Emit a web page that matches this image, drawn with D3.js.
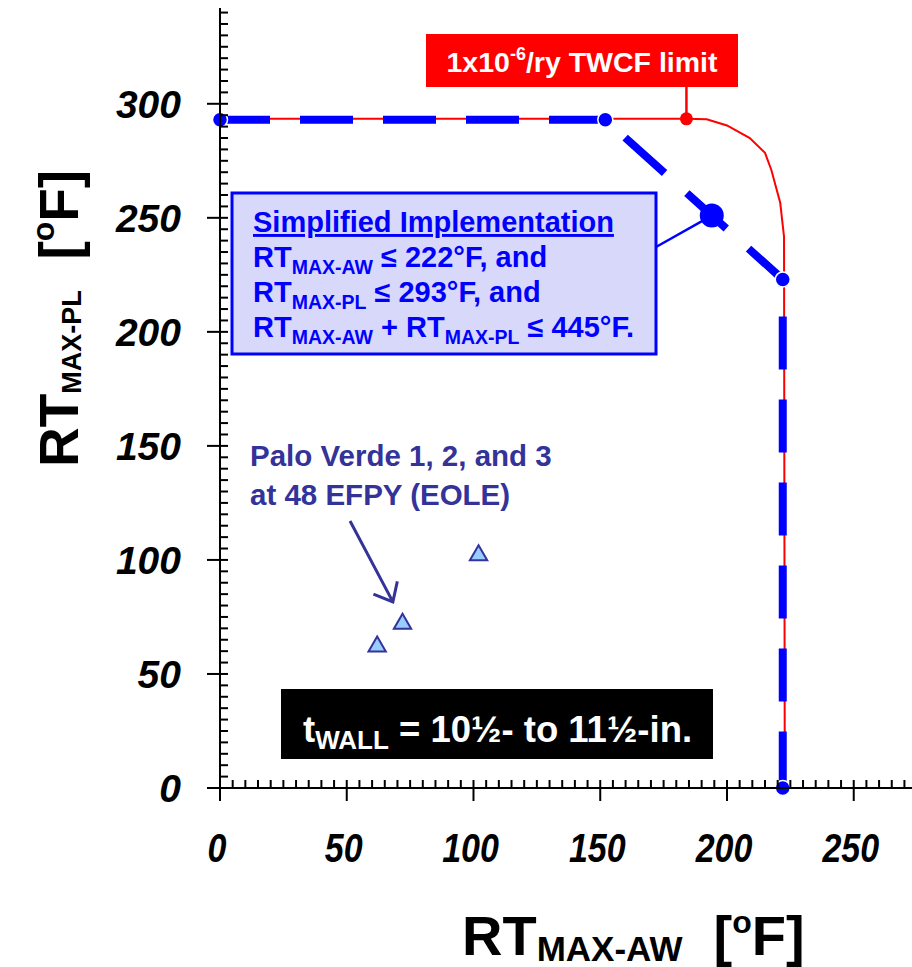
<!DOCTYPE html>
<html>
<head>
<meta charset="utf-8">
<script src="https://cdn.jsdelivr.net/npm/d3@7"></script>
<style>
  html, body { margin: 0; padding: 0; background: #fff; }
  svg { display: block; font-family: "Liberation Sans", Arial, sans-serif; font-weight: bold; }
</style>
</head>
<body>
<svg id="chart" width="912" height="967"></svg>
<script>
// axis ticks
const xTicks = [0, 50, 100, 150, 200, 250];
const yTicks = [0, 50, 100, 150, 200, 250, 300];

// 1e-6/ry TWCF limit curve [RT_MAX-AW, RT_MAX-PL]
const twcfLimit = [[0, 293.4], [184, 293.4], [192, 293.2], [200, 290.5], [209, 285], [215, 278.5],
                   [217.5, 271], [221, 256.6], [222.5, 241.7], [222.8, 0], [0, 0]];
const limitPoint = [184, 293.4];

// simplified implementation bound
const simplified = [[0, 293], [152, 293], [222, 223], [222, 0]];
const designPoint = [194, 251];

// Palo Verde 1, 2, 3 at 48 EFPY
const plantAW = [62, 72, 102];
const plantPL = [62, 72, 102];

const width = 912, height = 967;
const margin = { top: 8, right: 2.5, bottom: 179, left: 220 };

const svg = d3.select('#chart');

const x = d3.scaleLinear().domain([0, 272]).range([margin.left, width - margin.right]);
const y = d3.scaleLinear().domain([0, 342]).range([height - margin.bottom, margin.top]);

const line = d3.line().x(d => x(d[0])).y(d => y(d[1]));

function drawAxes() {
  const g = svg.append('g').attr('stroke', '#000').attr('stroke-width', 2);
  const minorX = d3.range(0, 271, 5), minorY = d3.range(0, 341, 5);

  // x axis: minor ticks up (inside), major ticks down
  g.selectAll('.mx').data(minorX).join('line')
    .attr('x1', d => x(d)).attr('x2', d => x(d))
    .attr('y1', y(0)).attr('y2', y(0) - 8);
  g.selectAll('.Mx').data(xTicks).join('line')
    .attr('x1', d => x(d)).attr('x2', d => x(d))
    .attr('y1', y(0)).attr('y2', y(0) + 13);
  g.append('line').attr('x1', x(0) - 13).attr('x2', width).attr('y1', y(0)).attr('y2', y(0));

  // y axis: minor ticks right (inside), major ticks left
  g.selectAll('.my').data(minorY).join('line')
    .attr('y1', d => y(d)).attr('y2', d => y(d))
    .attr('x1', x(0)).attr('x2', x(0) + 8);
  g.selectAll('.My').data(yTicks).join('line')
    .attr('y1', d => y(d)).attr('y2', d => y(d))
    .attr('x1', x(0)).attr('x2', x(0) - 13);
  g.append('line').attr('x1', x(0)).attr('x2', x(0)).attr('y1', y(342)).attr('y2', y(0) + 13);

  svg.append('g').selectAll('text').data(xTicks).join('text')
    .attr('transform', d => `translate(${x(d) - 3},862) scale(0.85,1)`)
    .attr('text-anchor', 'middle')
    .attr('font-size', 40).attr('font-style', 'italic')
    .text(d => d);

  svg.append('g').selectAll('text').data(yTicks).join('text')
    .attr('x', 181).attr('y', d => y(d) + 14)
    .attr('text-anchor', 'end')
    .attr('font-size', 39).attr('font-style', 'italic')
    .text(d => d);

  // axis titles
  const xt = svg.append('text').attr('x', 462).attr('y', 955).attr('font-size', 56);
  xt.append('tspan').text('RT');
  xt.append('tspan').attr('font-size', 35).attr('dy', 6).text('MAX-AW');
  xt.append('tspan').attr('dy', -6).text('\u00a0\u00a0[');
  xt.append('tspan').attr('font-size', 32).attr('dy', -22).text('o');
  xt.append('tspan').attr('dy', 22).text('F]');

  const yt = svg.append('text').attr('transform', 'translate(78,467) rotate(-90)').attr('font-size', 55);
  yt.append('tspan').text('RT');
  yt.append('tspan').attr('font-size', 27).attr('dy', 3).text('MAX-PL');
  yt.append('tspan').attr('dy', -3).text('\u00a0\u00a0[');
  yt.append('tspan').attr('font-size', 32).attr('dy', -24).text('o');
  yt.append('tspan').attr('dy', 24).text('F]');
}

function drawCurves() {
  svg.append('path').datum(twcfLimit)
    .attr('d', line).attr('fill', 'none')
    .attr('stroke', '#ff0000').attr('stroke-width', 2);

  svg.append('path').datum(simplified)
    .attr('d', line).attr('fill', 'none')
    .attr('stroke', '#0000ff').attr('stroke-width', 8)
    .attr('stroke-dasharray', '53 30').attr('stroke-dashoffset', 3);

  svg.append('g').selectAll('circle').data(simplified).join('circle')
    .attr('cx', d => x(d[0])).attr('cy', d => y(d[1])).attr('r', 7.5)
    .attr('fill', '#0000ff').attr('stroke', '#fff').attr('stroke-width', 1.5);

  svg.append('circle').attr('cx', x(designPoint[0])).attr('cy', y(designPoint[1]))
    .attr('r', 12).attr('fill', '#0000ff');

  // TWCF limit label
  svg.append('line').attr('x1', x(limitPoint[0])).attr('x2', x(limitPoint[0]))
    .attr('y1', 87).attr('y2', y(limitPoint[1]))
    .attr('stroke', '#ff0000').attr('stroke-width', 2.5);
  svg.append('circle').attr('cx', x(limitPoint[0])).attr('cy', y(limitPoint[1]))
    .attr('r', 6.5).attr('fill', '#ff0000');
  svg.append('rect').attr('x', 426).attr('y', 34).attr('width', 312).attr('height', 53).attr('fill', '#ff0000');
  const lt = svg.append('text').attr('x', 582).attr('y', 72).attr('text-anchor', 'middle')
    .attr('fill', '#fff').attr('font-size', 28.5);
  lt.append('tspan').text('1x10');
  lt.append('tspan').attr('font-size', 18).attr('dy', -12).text('-6');
  lt.append('tspan').attr('dy', 12).text('/ry TWCF limit');
}

function drawSimplifiedBox() {
  svg.append('line').attr('x1', 656).attr('y1', 247)
    .attr('x2', x(designPoint[0])).attr('y2', y(designPoint[1]))
    .attr('stroke', '#0000ff').attr('stroke-width', 2.5);
  svg.append('rect').attr('x', 232).attr('y', 193).attr('width', 424).attr('height', 161)
    .attr('fill', '#d8d8fb').attr('stroke', '#0000ff').attr('stroke-width', 3);

  const g = svg.append('g').attr('fill', '#0000ff').attr('font-size', 29);
  g.append('text').attr('x', 253).attr('y', 232).attr('text-decoration', 'underline')
    .text('Simplified Implementation');

  const lines = [
    [['RT', 0], ['MAX-AW', 1], [' \u2264 222\u00b0F, and', 0]],
    [['RT', 0], ['MAX-PL', 1], [' \u2264 293\u00b0F, and', 0]],
    [['RT', 0], ['MAX-AW', 1], [' + RT', 0], ['MAX-PL', 1], [' \u2264 445\u00b0F.', 0]]
  ];
  lines.forEach((parts, i) => {
    const t = g.append('text').attr('x', 253).attr('y', 267 + i * 35).attr('xml:space', 'preserve');
    let prev = 0;
    parts.forEach(([s, sub]) => {
      t.append('tspan').attr('font-size', sub ? 19.5 : 29)
        .attr('dy', (sub - prev) * 7).text(s);
      prev = sub;
    });
  });
}

function drawPlants() {
  const navy = '#333399';
  const g = svg.append('g').attr('fill', navy).attr('font-size', 29.5);
  g.append('text').attr('x', 250).attr('y', 466).text('Palo Verde 1, 2, and 3');
  g.append('text').attr('x', 250).attr('y', 505).text('at 48 EFPY (EOLE)');

  // arrow
  const a0 = [x(51.3), y(117.1)], a1 = [x(68.2), y(81.6)];
  const ang = Math.atan2(a0[1] - a1[1], a0[0] - a1[0]);
  const barb = s => [a1[0] + 21 * Math.cos(ang + s), a1[1] + 21 * Math.sin(ang + s)];
  svg.append('path')
    .attr('d', `M${a0}L${a1}M${barb(0.7)}L${a1}L${barb(-0.7)}`)
    .attr('fill', 'none').attr('stroke', navy).attr('stroke-width', 3);

  svg.append('g').selectAll('path').data(plantAW).join('path')
    .attr('transform', (d, i) => `translate(${x(d)},${y(plantPL[i])})`)
    .attr('d', d3.symbol(d3.symbolTriangle, 130))
    .attr('fill', '#99ccff').attr('stroke', navy).attr('stroke-width', 2);
}

function drawWallBox() {
  svg.append('rect').attr('x', 281).attr('y', 689).attr('width', 432).attr('height', 70).attr('fill', '#000');
  const t = svg.append('text').attr('x', 303).attr('y', 742).attr('fill', '#fff').attr('font-size', 36.5);
  t.append('tspan').text('t');
  t.append('tspan').attr('font-size', 26).attr('dy', 7).text('WALL');
  t.append('tspan').attr('dy', -7).text(' = 10\u00bd- to 11\u00bd-in.');
}

drawCurves();
drawAxes();
drawSimplifiedBox();
drawPlants();
drawWallBox();
</script>
</body>
</html>
